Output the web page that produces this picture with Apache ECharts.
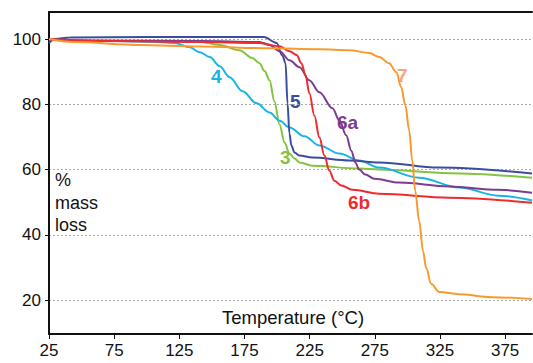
<!DOCTYPE html>
<html><head><meta charset="utf-8">
<script src="https://cdn.jsdelivr.net/npm/echarts@6/dist/echarts.min.js"></script>
<style>html,body{margin:0;padding:0;background:#fff}#c{width:533px;height:363px}</style>
</head><body><div id="c"></div>
<script>
const xTicks = [25, 75, 125, 175, 225, 275, 325, 375];
const yTicks = [20, 40, 60, 80, 100];
const seriesNames = ['3', '4', '5', '6a', '6b', '7'];
const s3 = [[25,99.8],[64,99.5],[140.6,99.2],[156,98.2],[171,96.6],[181,94.2],[186.5,92.6],[190.4,90.2],[194.2,87.4],[198,80.9],[201.9,73.8],[205.7,68.3],[209.5,64.9],[213.4,63.4],[217.2,62.2],[227,61.2],[263,60.3],[278.4,60],[332,58.9],[395.6,57.5]];
const s4 = [[25,99.8],[64,99.5],[102.3,99.2],[121.5,98.8],[133,97.5],[140.6,96],[148.3,94.5],[156,91.7],[163.6,88.3],[173.5,84],[184.3,80.3],[194.2,77.5],[202,75],[209.5,72.9],[221,70.2],[232.5,67.4],[247.8,64.9],[263,62.8],[278.4,60.6],[309,57.5],[339.7,54.5],[370,52],[395.6,50.5]];
const s5 = [[25,98.8],[29.6,100],[41,100.5],[102,100.6],[190,100.6],[199.6,98.8],[204,95],[206.5,92.6],[208,80.3],[209.5,71],[211,67.4],[213.4,65.2],[217,64.3],[227,63.7],[255.5,62.8],[278.4,62.2],[324.4,60.6],[395.6,58.8]];
const s6a = [[25,99.7],[64,99.5],[140.6,99.4],[186.5,99.1],[194.2,98.2],[202,96.3],[209.5,93.5],[217.2,91.4],[224.7,87.4],[232.5,83.7],[242.5,78.8],[247.8,75.1],[253,70.5],[257,65.8],[260,62.2],[263,60],[267.7,58.5],[274.6,57.2],[293.8,56],[332,54.8],[370,53.8],[395.6,52.9]];
const s6b = [[25,100],[64,99.4],[140.6,99.1],[186.5,98.8],[202,97.8],[209.5,96.3],[215,95.1],[218.7,92.6],[221.8,88.9],[224.8,83.4],[228.6,76.6],[232.5,69.8],[236.3,64.3],[240,59.7],[244,56.6],[249.3,55.1],[257.8,53.8],[278.4,52.6],[332,51.4],[395.6,49.8]];
const s7 = [[25,100],[43.4,99.1],[94.7,98.2],[140.6,97.7],[194.2,97.2],[232.5,96.9],[255.5,96.6],[270.8,95.7],[278.4,94.5],[286,92.6],[291.5,89.8],[295.3,85.2],[298.4,79.7],[301.4,72],[303.7,62.8],[306,53.5],[309,44.3],[312,35],[314.4,29.8],[318.3,24.9],[324.4,22.5],[339.7,21.8],[365,20.9],[395.6,20.3]];
const seriesData = [s3, s4, s5, s6a, s6b, s7];
const colors = ['#84C341', '#1BB3E6', '#3B4DA0', '#7D3C8F', '#EE2B2F', '#F89A2C'];
const labelColors = ['#84C341', '#1BB3E6', '#3B4DA0', '#7D3C8F', '#EE2B2F', '#F6A47A'];

const chart = echarts.init(document.getElementById('c'), null, {renderer: 'svg'});
const font = 'Liberation Sans, Arial, sans-serif';
chart.setOption({
  animation: false,
  grid: {left: 49, right: 1, top: 12, bottom: 29},
  xAxis: [{
    type: 'value', min: 25, max: 395.6, interval: 50,
    axisLine: {lineStyle: {color: '#111', width: 2}},
    axisTick: {show: true, length: 5, lineStyle: {color: '#111', width: 1}, customValues: xTicks},
    axisLabel: {color: '#111', fontSize: 17, fontFamily: font, margin: 8, customValues: xTicks},
    splitLine: {show: false}
  }, {
    type: 'value', position: 'top', min: 25, max: 395.6,
    axisLine: {show: true, lineStyle: {color: '#111', width: 2}},
    axisTick: {show: false}, axisLabel: {show: false}, splitLine: {show: false}
  }],
  yAxis: {
    type: 'value', min: 9.6, max: 108.3,
    axisLine: {show: true, lineStyle: {color: '#111', width: 2}},
    axisTick: {show: true, length: 4, lineStyle: {color: '#111', width: 1}, customValues: yTicks},
    axisLabel: {color: '#111', fontSize: 17, fontFamily: font, margin: 8, customValues: yTicks},
    splitLine: {show: true, lineStyle: {color: '#aaa', type: [2, 2], width: 1}}
  },
  series: seriesData.map((d, i) => ({
    name: seriesNames[i], type: 'line', data: d, showSymbol: false, symbol: 'none',
    smooth: 0.35, smoothMonotone: 'x',
    lineStyle: {color: colors[i], width: 2}, z: 2 + i
  })),
  graphic: [
    {type: 'text', left: 55, top: 169, style: {text: '%\nmass\nloss', fontSize: 18, lineHeight: 22.5, fontFamily: font, fill: '#111'}},
    {type: 'text', left: 222, top: 308, style: {text: 'Temperature (°C)', fontSize: 18.5, fontFamily: font, fill: '#111'}},
    {type: 'text', left: 211, top: 67, style: {text: '4', fontSize: 19, fontWeight: 'bold', fontFamily: font, fill: labelColors[1]}},
    {type: 'text', left: 290, top: 92, style: {text: '5', fontSize: 19, fontWeight: 'bold', fontFamily: font, fill: labelColors[2]}},
    {type: 'text', left: 337, top: 113, style: {text: '6a', fontSize: 19, fontWeight: 'bold', fontFamily: font, fill: labelColors[3]}},
    {type: 'text', left: 280, top: 148, style: {text: '3', fontSize: 19, fontWeight: 'bold', fontFamily: font, fill: labelColors[0]}},
    {type: 'text', left: 348, top: 193, style: {text: '6b', fontSize: 19, fontWeight: 'bold', fontFamily: font, fill: labelColors[4]}},
    {type: 'text', left: 397, top: 66, style: {text: '7', fontSize: 19, fontWeight: 'bold', fontFamily: font, fill: labelColors[5]}}
  ]
});
</script></body></html>
